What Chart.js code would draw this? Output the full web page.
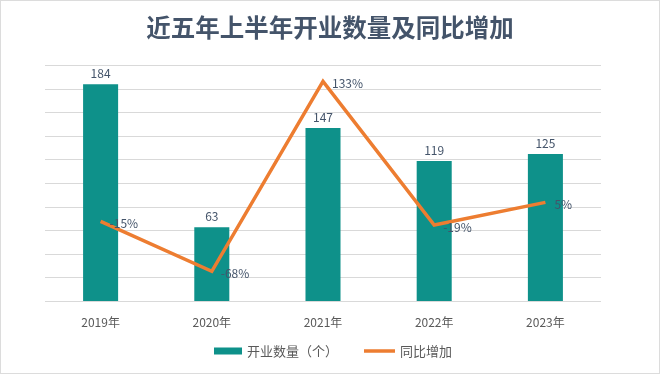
<!DOCTYPE html>
<html>
<head>
<meta charset="utf-8">
<script src="https://cdn.jsdelivr.net/npm/chart.js@4"></script>
<style>
  html, body { margin: 0; padding: 0; background: #fff; }
  #wrap { width: 660px; height: 374px; position: relative; }
</style>
</head>
<body>
<div id="wrap"><canvas id="chart" width="660" height="374"></canvas></div>
<script>
// 数据
const years = ['2019年', '2020年', '2021年', '2022年', '2023年'];
const openCount = [184, 63, 147, 119, 125];
const yoyGrowth = [-15, -68, 133, -19, 5];
const seriesNames = ['开业数量（个）', '同比增加'];

const FONT = '"Noto Sans CJK SC", "Noto Sans", sans-serif';
const TEXT_COLOR = '#595959';
const LABEL_COLOR = '#44546a';
const BAR_COLOR = '#0e918a';
const LINE_COLOR = '#ed7d31';

// 数据标签、图例、外框
const decorations = {
    id: 'decorations',
    afterDatasetsDraw(chart) {
        const ctx = chart.ctx;
        ctx.save();
        ctx.font = '12px ' + FONT;
        ctx.fillStyle = LABEL_COLOR;

        const bars = chart.getDatasetMeta(0).data;
        ctx.textAlign = 'center';
        ctx.textBaseline = 'bottom';
        bars.forEach((bar, i) => {
            ctx.fillText(openCount[i], bar.x, bar.y - 5);
        });

        const points = chart.getDatasetMeta(1).data;
        ctx.textAlign = 'left';
        ctx.textBaseline = 'middle';
        points.forEach((pt, i) => {
            ctx.fillText(yoyGrowth[i] + '%', pt.x + 9, pt.y + 2);
        });
        ctx.restore();
    },
    afterDraw(chart) {
        const ctx = chart.ctx;
        ctx.save();

        // 图例
        ctx.font = '13px ' + FONT;
        ctx.textAlign = 'left';
        ctx.textBaseline = 'middle';
        const boxW = 28, lineW = 31, gapText = 5, gapItem = 26;
        const w0 = ctx.measureText(seriesNames[0]).width;
        const w1 = ctx.measureText(seriesNames[1]).width;
        const total = boxW + gapText + w0 + gapItem + lineW + gapText + w1;
        const cy = 351;
        let x = 333 - total / 2;

        ctx.fillStyle = BAR_COLOR;
        ctx.fillRect(x, cy - 3.5, boxW, 7);
        x += boxW + gapText;
        ctx.fillStyle = TEXT_COLOR;
        ctx.fillText(seriesNames[0], x, cy);
        x += w0 + gapItem;

        ctx.strokeStyle = LINE_COLOR;
        ctx.lineWidth = 3.5;
        ctx.beginPath();
        ctx.moveTo(x, cy);
        ctx.lineTo(x + lineW, cy);
        ctx.stroke();
        x += lineW + gapText;
        ctx.fillText(seriesNames[1], x, cy);

        // 外框
        ctx.strokeStyle = '#dcdcdc';
        ctx.lineWidth = 1;
        ctx.strokeRect(0.5, 0.5, chart.width - 1, chart.height - 1);
        ctx.restore();
    }
};

new Chart(document.getElementById('chart'), {
    data: {
        labels: years,
        datasets: [{
            type: 'bar',
            label: seriesNames[0],
            data: openCount,
            backgroundColor: BAR_COLOR,
            borderWidth: 0,
            barPercentage: 0.63,
            categoryPercentage: 0.5,
            yAxisID: 'y',
            order: 2
        }, {
            type: 'line',
            label: seriesNames[1],
            data: yoyGrowth,
            borderColor: LINE_COLOR,
            backgroundColor: LINE_COLOR,
            borderWidth: 3.5,
            pointRadius: 0,
            pointHoverRadius: 0,
            tension: 0,
            yAxisID: 'y1',
            order: 1
        }]
    },
    options: {
        responsive: false,
        animation: false,
        layout: { padding: { left: 45, right: 45, top: 0, bottom: 38 } },
        scales: {
            x: {
                grid: { display: false },
                border: { display: false },
                ticks: { color: TEXT_COLOR, font: { family: FONT, size: 12 }, padding: 6 }
            },
            y: {
                min: 0,
                max: 200,
                ticks: { display: false, stepSize: 20 },
                grid: { color: '#d9d9d9', drawTicks: false },
                border: { display: false }
            },
            y1: {
                position: 'right',
                min: -100,
                max: 150,
                ticks: { display: false },
                grid: { display: false },
                border: { display: false },
                afterFit(scale) { scale.width = 14; }
            }
        },
        plugins: {
            title: {
                display: true,
                text: '近五年上半年开业数量及同比增加',
                color: '#44546a',
                font: { family: FONT, size: 24.5, weight: 'bold' },
                padding: { top: 13, bottom: 23 }
            },
            legend: { display: false },
            tooltip: { enabled: false }
        }
    },
    plugins: [decorations]
});
</script>
</body>
</html>
